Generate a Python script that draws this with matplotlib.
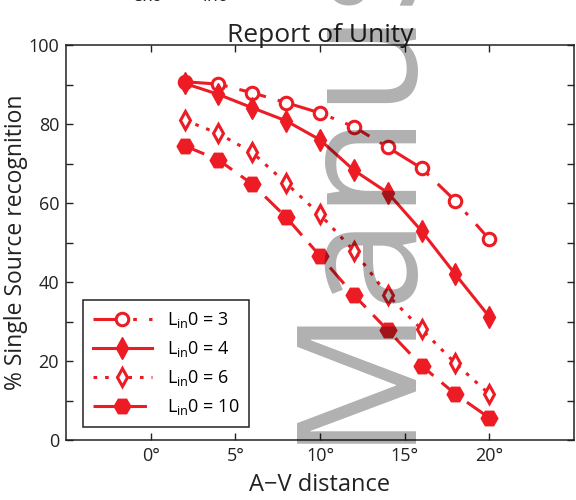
import numpy as np
import matplotlib.pyplot as plt

# A-V distance (deg) and % single source recognition for each L_in0
distance = [2, 4, 6, 8, 10, 12, 14, 16, 18, 20]
lin0_3 = [90.7, 90.1, 87.9, 85.4, 82.8, 79.3, 74.1, 68.8, 60.5, 50.8]
lin0_4 = [90.3, 87.5, 84.1, 80.8, 76.0, 68.3, 62.6, 52.9, 41.9, 31.2]
lin0_6 = [81.0, 77.6, 72.8, 65.0, 57.1, 47.9, 36.7, 28.0, 19.4, 11.6]
lin0_10 = [74.5, 70.9, 64.8, 56.4, 46.6, 36.7, 27.8, 18.8, 11.6, 5.6]
lin0_names = ["3", "4", "6", "10"]

xticks = [0, 5, 10, 15, 20]
xticklabels = ["0°", "5°", "10°", "15°", "20°"]
yticks = [0, 10, 20, 30, 40, 50, 60, 70, 80, 90, 100]
yticklabels = ["0", "", "20", "", "40", "", "60", "", "80", "", "100"]

red = "#ed1c24"
plt.rcParams["font.family"] = ["Open Sans", "DejaVu Sans"]

fig = plt.figure(figsize=(5.76, 5.0), dpi=100)
ax = fig.add_axes([66 / 576, 60 / 500, 508 / 576, 395 / 500])

lw = 2.2
ax.plot(distance, lin0_3, color=red, lw=lw, dashes=(9, 4, 1.2, 4),
        marker="o", ms=9, mew=2.2, mfc="white", mec=red,
        label="L$_\\mathregular{in}$0 = " + lin0_names[0])
ax.plot(distance, lin0_4, color=red, lw=lw, ls="-",
        marker="d", ms=11, mew=1, mfc=red, mec=red,
        label="L$_\\mathregular{in}$0 = " + lin0_names[1])
ax.plot(distance, lin0_6, color=red, lw=lw, dashes=(1.2, 2.6),
        marker="d", ms=9, mew=2.2, mfc="white", mec=red,
        label="L$_\\mathregular{in}$0 = " + lin0_names[2])
ax.plot(distance, lin0_10, color=red, lw=lw, dashes=(7, 3.5),
        marker="H", ms=12, mew=1, mfc=red, mec=red,
        label="L$_\\mathregular{in}$0 = " + lin0_names[3])

ax.set_xlim(-5, 25)
ax.set_ylim(0, 100)
ax.set_xticks(xticks)
ax.set_xticklabels(xticklabels)
ax.set_yticks(yticks)
ax.set_yticklabels(yticklabels)
ax.tick_params(direction="in", top=True, right=True, length=5, width=1,
               labelsize=13, colors="#222222", pad=5)
for sp in ax.spines.values():
    sp.set_linewidth(1.1)
    sp.set_color("#222222")

ax.set_title("Report of Unity", fontsize=19, color="#222222", pad=2)
ax.set_xlabel("A\u2212V distance", fontsize=17, color="#222222", labelpad=6)
ax.set_ylabel("% Single Source recognition", fontsize=16.5, color="#222222")
ax.yaxis.set_label_coords(-0.074, 0.5)

leg = ax.legend(loc="lower left", bbox_to_anchor=(0.033, 0.033), fontsize=13,
                handlelength=3.3, labelspacing=0.5, borderpad=0.55,
                fancybox=False, framealpha=1, borderaxespad=0)
leg.get_frame().set_edgecolor("#222222")
leg.get_frame().set_linewidth(1.1)

# cropped header line at the very top
fig.text(119 / 576, 1 - 4 / 500, "L$_\\mathregular{ex0}$ = L$_\\mathregular{in0}$",
         fontsize=18, color="#222222", ha="left", va="bottom")

# watermark
fig.text(401 / 576, 1 - 443 / 500, "Manuscript", rotation=90, rotation_mode="anchor",
         ha="left", va="baseline", fontsize=120, color="black", alpha=0.31,
         family=["Liberation Sans Narrow", "Open Sans"], zorder=10)

fig.savefig("out.png", dpi=100)
